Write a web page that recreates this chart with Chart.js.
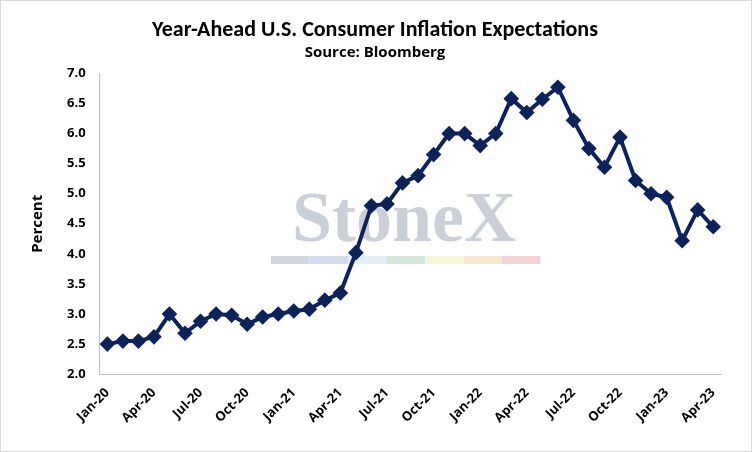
<!DOCTYPE html>
<html>
<head>
<meta charset="utf-8">
<script src="https://cdn.jsdelivr.net/npm/chart.js@4"></script>
<style>
  body { margin: 0; background: #fff; }
  #wrap { position: relative; width: 750px; height: 450px; border: 1px solid #d9d9d9; }
</style>
</head>
<body>
<div id="wrap"><canvas id="c"></canvas></div>
<script>
const months = ["Jan-20","Feb-20","Mar-20","Apr-20","May-20","Jun-20","Jul-20","Aug-20","Sep-20","Oct-20","Nov-20","Dec-20",
  "Jan-21","Feb-21","Mar-21","Apr-21","May-21","Jun-21","Jul-21","Aug-21","Sep-21","Oct-21","Nov-21","Dec-21",
  "Jan-22","Feb-22","Mar-22","Apr-22","May-22","Jun-22","Jul-22","Aug-22","Sep-22","Oct-22","Nov-22","Dec-22",
  "Jan-23","Feb-23","Mar-23","Apr-23"];
const expectations = [2.50,2.55,2.55,2.62,3.00,2.68,2.88,3.00,2.98,2.83,2.95,3.00,
  3.05,3.08,3.23,3.35,4.02,4.80,4.83,5.18,5.30,5.65,6.00,6.00,
  5.80,6.00,6.58,6.35,6.57,6.77,6.22,5.75,5.44,5.94,5.22,5.00,
  4.94,4.22,4.73,4.45];

const watermark = {
  id: "watermark",
  beforeDatasetsDraw(chart) {
    const ctx = chart.ctx;
    ctx.save();
    const stripe = ["#d0d6e0","#d3dcea","#e3eef6","#d4e6dc","#f4f6da","#f8e8d2","#f2d6d6"];
    stripe.forEach((c, i) => { ctx.fillStyle = c; ctx.fillRect(270 + i * 38.5, 255, 38.5, 8); });
    ctx.fillStyle = "rgba(190,196,206,0.8)";
    ctx.font = "bold 72px 'Liberation Serif', serif";
    ctx.textAlign = "center";
    ctx.fillText("StoneX", 403, 240);
    ctx.restore();
  }
};

new Chart(document.getElementById("c"), {
  type: "line",
  data: {
    labels: months,
    datasets: [{
      data: expectations,
      borderColor: "#0d2259",
      backgroundColor: "#0d2259",
      borderWidth: 4,
      pointStyle: "rectRot",
      pointRadius: 5,
      tension: 0
    }]
  },
  options: {
    responsive: true,
    maintainAspectRatio: false,
    animation: false,
    layout: { padding: { left: 28, right: 30, top: 8, bottom: 22 } },
    plugins: {
      legend: { display: false },
      title: {
        display: true,
        text: "Year-Ahead U.S. Consumer Inflation Expectations",
        color: "#000",
        font: { family: "Calibri, Carlito, 'Open Sans', sans-serif", size: 22, weight: "bold" },
        padding: { top: 8, bottom: 0 }
      },
      subtitle: {
        display: true,
        text: "Source: Bloomberg",
        color: "#000",
        font: { family: "'Open Sans', sans-serif", size: 15, weight: "bold" },
        padding: { top: 0, bottom: 12 }
      }
    },
    scales: {
      x: {
        offset: true,
        grid: { display: false },
        border: { color: "#bfbfbf" },
        ticks: {
          autoSkip: false,
          maxRotation: 45,
          minRotation: 45,
          color: "#000",
          font: { family: "'Open Sans', sans-serif", size: 13, weight: "bold" },
          callback: function (v, i) { return i % 3 === 0 ? this.getLabelForValue(v) : ""; }
        }
      },
      y: {
        min: 2, max: 7,
        grid: { display: false },
        border: { color: "#bfbfbf" },
        title: { display: true, text: "Percent", color: "#000", padding: { top: 0, bottom: 14 },
          font: { family: "'Open Sans', sans-serif", size: 15, weight: "bold" } },
        ticks: {
          stepSize: 0.5,
          padding: 6,
          color: "#000",
          font: { family: "'Open Sans', sans-serif", size: 13, weight: "bold" },
          callback: v => v.toFixed(1)
        }
      }
    }
  },
  plugins: [watermark]
});
</script>
</body>
</html>
